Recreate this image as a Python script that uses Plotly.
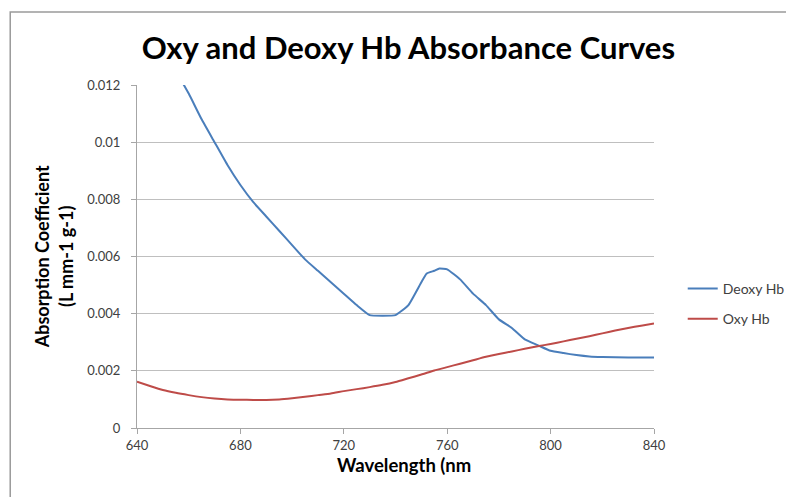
import plotly.graph_objects as go

# Wavelengths (nm) and absorption coefficients
deoxy_wl = [640, 645, 650, 655, 660, 665, 670, 675, 680, 685, 690, 695, 700, 705,
            710, 715, 720, 725, 730, 735, 740, 745, 750, 752, 755, 757, 760, 765,
            770, 775, 780, 785, 790, 795, 800, 805, 810, 815, 820, 830, 840]
deoxy_hb = [0.0147, 0.0140, 0.0133, 0.0125, 0.0117, 0.0108, 0.0100, 0.0092, 0.0085,
            0.0079, 0.0074, 0.0069, 0.0064, 0.0059, 0.0055, 0.0051, 0.0047, 0.0043,
            0.00395, 0.00393, 0.00395, 0.0043, 0.0051, 0.0054, 0.0055, 0.00558,
            0.00555, 0.0052, 0.0047, 0.0043, 0.0038, 0.0035, 0.0031, 0.0029, 0.0027,
            0.00262, 0.00255, 0.0025, 0.00248, 0.00247, 0.00247]

oxy_wl = [640, 645, 650, 655, 660, 665, 670, 675, 680, 685, 690, 695, 700, 705,
          710, 715, 720, 725, 730, 735, 740, 745, 750, 755, 760, 765, 770, 775,
          780, 785, 790, 795, 800, 805, 810, 815, 820, 825, 830, 835, 840]
oxy_hb = [0.00162, 0.00147, 0.00133, 0.00123, 0.00115, 0.00108, 0.00103, 0.00100,
          0.00099, 0.00098, 0.00098, 0.00100, 0.00104, 0.00109, 0.00115, 0.00121,
          0.00129, 0.00136, 0.00143, 0.00151, 0.00161, 0.00174, 0.00187, 0.00201,
          0.00213, 0.00225, 0.00237, 0.00249, 0.00259, 0.00268, 0.00277, 0.00286,
          0.00294, 0.00303, 0.00312, 0.00321, 0.00331, 0.00341, 0.00350, 0.00358,
          0.00366]

x_ticks = [640, 680, 720, 760, 800, 840]
y_ticks = [0, 0.002, 0.004, 0.006, 0.008, 0.01, 0.012]
y_tick_labels = ["0", "0.002", "0.004", "0.006", "0.008", "0.01", "0.012"]

FONT = "Lato, 'Open Sans', sans-serif"

fig = go.Figure()
fig.add_trace(go.Scatter(x=deoxy_wl, y=deoxy_hb, mode="lines", name="Deoxy Hb",
                         legendgroup="a",
                         line=dict(color="#4A7EBB", width=2, shape="spline", smoothing=0.4)))
fig.add_trace(go.Scatter(x=oxy_wl, y=oxy_hb, mode="lines", name="Oxy Hb",
                         legendgroup="b",
                         line=dict(color="#BE4B48", width=2, shape="spline", smoothing=0.5)))

fig.update_layout(
    width=794, height=497,
    margin=dict(l=129, r=143, t=77, b=77),
    paper_bgcolor="white", plot_bgcolor="white",
    font=dict(family=FONT, size=13, color="#404040"),
    title=dict(text="<b>Oxy and Deoxy Hb Absorbance Curves</b>",
               x=(411 - 137) / 522, xref="paper", xanchor="center",
               y=1 - 40 / 497, yref="container", yanchor="middle",
               font=dict(family=FONT, size=31, color="#000000")),
    showlegend=True,
    legend=dict(x=(688 - 137) / 522, xanchor="left", y=(428 - 273) / 343, yanchor="top",
                tracegroupgap=9, itemwidth=30,
                font=dict(family=FONT, size=14, color="#404040"),
                bgcolor="rgba(0,0,0,0)"),
    xaxis=dict(range=[640, 840], tickvals=x_ticks, showgrid=False,
               showline=True, linecolor="#A6A6A6", linewidth=1,
               ticks="outside", ticklen=5, tickcolor="#A6A6A6",
               zeroline=False, tickfont=dict(size=13, color="#404040")),
    yaxis=dict(range=[0, 0.012], tickvals=y_ticks, ticktext=y_tick_labels,
               showgrid=True, gridcolor="#BFBFBF", gridwidth=1,
               showline=True, linecolor="#A6A6A6", linewidth=1,
               ticks="outside", ticklen=5, tickcolor="#A6A6A6",
               ticklabelstandoff=8,
               zeroline=False, tickfont=dict(size=13, color="#404040")),
    annotations=[
        dict(text="<b>Wavelength (nm</b>", xref="paper", yref="paper",
             x=(407 - 137) / 522, y=(428 - 465) / 343, xanchor="center", yanchor="middle",
             showarrow=False, font=dict(family=FONT, size=18.5, color="#000000")),
        dict(text="<b>Absorption Coefficient<br>(L mm-1 g-1)</b>", xref="paper", yref="paper",
             x=(53 - 137) / 522, y=0.5, xanchor="center", yanchor="middle",
             textangle=-90, showarrow=False,
             font=dict(family=FONT, size=18, color="#000000")),
    ],
    shapes=[
        dict(type="rect", xref="paper", yref="paper",
             x0=(9 - 137) / 522, x1=1.7, y0=-0.4, y1=(428 - 12) / 343,
             line=dict(color="#9A9A9A", width=1.5), fillcolor="rgba(0,0,0,0)", layer="below"),
    ],
)

fig.write_html("out.html")
